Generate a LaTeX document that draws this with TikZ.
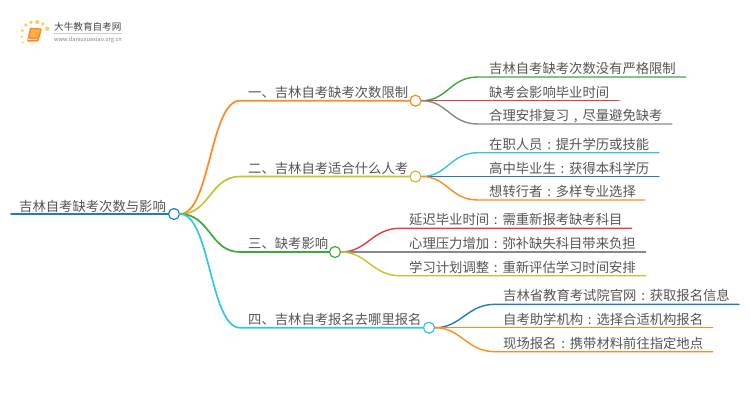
\documentclass[tikz,border=0pt]{standalone}
\usepackage{xcolor}
\usepackage{fontspec}
\setmainfont{Noto Sans CJK SC}
\definecolor{testo}{HTML}{555555}
\definecolor{radice}{HTML}{1F7CC2}
\definecolor{arancio}{HTML}{FF8A24}
\definecolor{oliva}{HTML}{C4C433}
\definecolor{verde}{HTML}{3AAA3A}
\definecolor{ciano}{HTML}{32C8DD}
\definecolor{rosso}{HTML}{E43C46}
\definecolor{grigio}{HTML}{888888}
\definecolor{sole}{HTML}{FBCB5E}
\newcommand{\duepunti}{\makebox[1em]{:}}
\newcommand{\virgola}{\makebox[1em]{,}}
\tikzset{
    lbl/.style={anchor=base west, inner sep=0pt, text=testo, font=\fontsize{13.33}{16}\selectfont},
    knob/.style={circle, draw=#1, fill=white, line width=1.2pt, minimum size=11pt, inner sep=0pt},
    ramo/.style={line width=1.7pt, line cap=round},
    foglia/.style={line width=1.4pt, line cap=round}
}
\begin{document}
\begin{tikzpicture}[x=1pt,y=-1pt]
        \useasboundingbox (0,0) rectangle (750,410);
        % Logo
        \foreach \x/\y/\r in {22.5/30.5/1.5, 26/25/1.8, 31/22.3/1.9, 37.3/22/2, 42.7/24/1.9, 47.3/28.7/2.2, 21.7/36.7/1.2, 22.7/42.3/1}
            {
                \fill[sole] (\x,\y) circle (\r);
            }
        \fill[arancio, rounded corners=1pt] (30,27.5) -- (42,28.5) -- (38.5,41.5) -- (27,41.5) -- cycle;
        \fill[sole!60!arancio] (31.5,29) -- (40,29.8) -- (37.5,37.5) -- (29.5,37) -- cycle;
        \fill[white!70!arancio] (27.8,38.6) -- (37.5,39) -- (37.2,39.8) -- (27.6,39.8) -- cycle;
        \node[anchor=base west, inner sep=0pt, text=testo!80!black, font=\fontsize{9.6}{11}\selectfont] (logo) at (54,30) {大牛教育自考网};
        \node[anchor=base west, inner sep=0pt, text=gray, font=\fontsize{5.6}{7}\selectfont] (sito) at (54,41) {www.daniuxuexiao.org.cn};
        \coordinate (lg1) at (54,33);
        \coordinate (lg2) at (122,33);
        \draw[black!20, line width=0.5pt] (lg1) -- (lg2);
        % Radice
        \node[knob=radice] (root) at (174,214) {};
        \coordinate (rootin) at (11,214);
        \node[lbl] (rootlbl) at (19,211) {吉林自考缺考次数与影响};
        \draw[ramo, radice] (rootin) -- (root.west);
        % Rami
        \foreach \n/\col/\y/\xe/\txt in {
                1/arancio/100.7/415.5/一、吉林自考缺考次数限制,
                2/oliva/176.5/415.5/二、吉林自考适合什么人考,
                3/verde/252/335/三、缺考影响,
                4/ciano/327.7/429/四、吉林自考报名去哪里报名}
            {
                \node[knob=\col] (b\n) at (\xe,\y) {};
                \coordinate (ba\n) at (240,\y);
                \node[lbl] (t\n) at (248,\y-3.5) {\txt};
                \draw[ramo, \col] (root.east) .. controls +(30,0) and +(-30,0) .. (ba\n) -- (b\n.west);
            }
        % Foglie
        \foreach \m/\pa/\col/\y/\xa/\xb/\xt/\txt in {
                1/1/verde/77/478/685.7/489/吉林自考缺考次数没有严格限制,
                2/1/rosso/100.7/478/619/489/缺考会影响毕业时间,
                3/1/grigio/124/478/672/489/合理安排复习\virgola 尽量避免缺考,
                4/2/ciano/152.7/478/659/489/在职人员\duepunti 提升学历或技能,
                5/2/radice/176.5/478/659/489/高中毕业生\duepunti 获得本科学历,
                6/2/arancio/200/478/645/489/想转行者\duepunti 多样专业选择,
                7/3/rosso/228.3/400/631.7/409/延迟毕业时间\duepunti 需重新报考缺考科目,
                8/3/grigio/252/400/645.7/409/心理压力增加\duepunti 弥补缺失科目带来负担,
                9/3/oliva/275.7/400/645.7/409/学习计划调整\duepunti 重新评估学习时间安排,
                10/4/radice/304.3/495/739/503/吉林省教育考试院官网\duepunti 获取报名信息,
                11/4/arancio/327.7/495/712.7/503/自考助学机构\duepunti 选择合适机构报名,
                12/4/arancio/351.7/495/712.7/503/现场报名\duepunti 携带材料前往指定地点}
            {
                \coordinate (fa\m) at (\xa,\y);
                \coordinate (fb\m) at (\xb,\y);
                \node[lbl] (f\m) at (\xt,\y-3.5) {\txt};
                \draw[foglia, \col] (b\pa.east) .. controls +(26,0) and +(-28,0) .. (fa\m) -- (fb\m);
            }
    \end{tikzpicture}
\end{document}
